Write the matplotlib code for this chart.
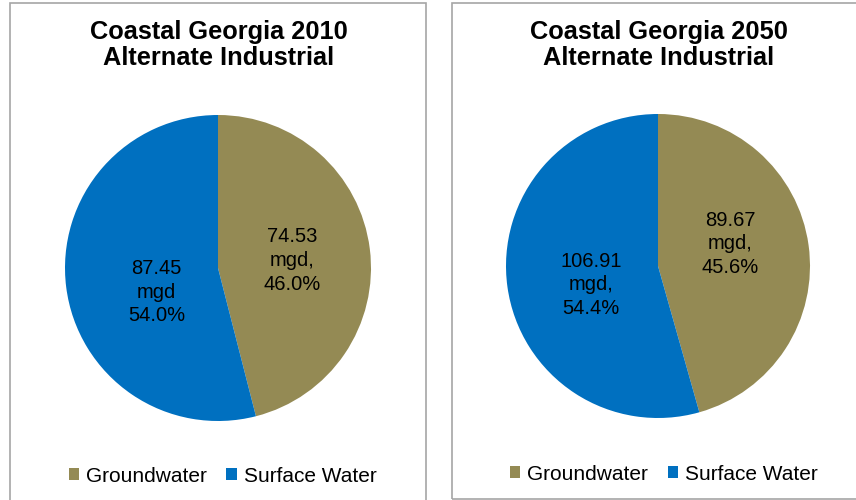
import matplotlib
matplotlib.use("Agg")
import matplotlib.pyplot as plt
from matplotlib.patches import Rectangle, Patch

plt.rcParams['font.family'] = ['Liberation Sans', 'DejaVu Sans']

categories = ["Groundwater", "Surface Water"]
titles = ["Coastal Georgia 2010\nAlternate Industrial", "Coastal Georgia 2050\nAlternate Industrial"]
values_2010 = [74.53, 87.45]
values_2050 = [89.67, 106.91]
labels_2010 = ["74.53\nmgd,\n46.0%", "87.45\nmgd\n54.0%"]
labels_2050 = ["89.67\nmgd,\n45.6%", "106.91\nmgd,\n54.4%"]
colors = ["#948A54", "#0070C0"]

W, H = 856, 500
fig = plt.figure(figsize=(W/100, H/100), dpi=100)

def fx(px): return px / W
def fy(py): return 1 - py / H

# panel borders
fig.patches.append(Rectangle((fx(10), fy(510)), fx(416), 507/H, transform=fig.transFigure,
                             fill=False, edgecolor="#A6A6A6", lw=1.2))
fig.patches.append(Rectangle((fx(452), fy(499)), fx(420), 496/H, transform=fig.transFigure,
                             fill=False, edgecolor="#A6A6A6", lw=1.2))

panels = [
    dict(vals=values_2010, labs=labels_2010, title=titles[0], cx=218, cy=268, r=153,
         lpos=[(0.487, 0.05), (-0.40, -0.157)], tx=218.5, legx=222.5, legy=476),
    dict(vals=values_2050, labs=labels_2050, title=titles[1], cx=658, cy=266, r=152,
         lpos=[(0.474, 0.145), (-0.44, -0.125)], tx=659, legx=664, legy=474),
]

for p in panels:
    ax = fig.add_axes([fx(p['cx'] - p['r']), fy(p['cy'] + p['r']), 2*p['r']/W, 2*p['r']/H])
    wedges, _ = ax.pie(p['vals'], colors=colors, startangle=90, counterclock=False,
                       radius=1, wedgeprops=dict(linewidth=0))
    ax.set_xlim(-1, 1); ax.set_ylim(-1, 1)
    ax.set_aspect('equal')
    ax.axis('off')
    for lab, (lx, ly) in zip(p['labs'], p['lpos']):
        ax.text(lx, ly, lab, ha='center', va='center', fontsize=14.5, color='black',
                linespacing=1.32)
    fig.text(fx(p['tx']), fy(45), p['title'], ha='center', va='center', fontsize=18.3,
             fontweight='bold', linespacing=1.1)
    handles = [Patch(facecolor=c, edgecolor='none') for c in colors]
    fig.legend(handles, categories, loc='center', bbox_to_anchor=(fx(p['legx']), fy(p['legy'])),
               ncol=2, frameon=False, fontsize=15, handlelength=0.5, handleheight=0.55,
               handletextpad=0.33, columnspacing=0.95, borderpad=0)

fig.savefig("out.png", dpi=100)
